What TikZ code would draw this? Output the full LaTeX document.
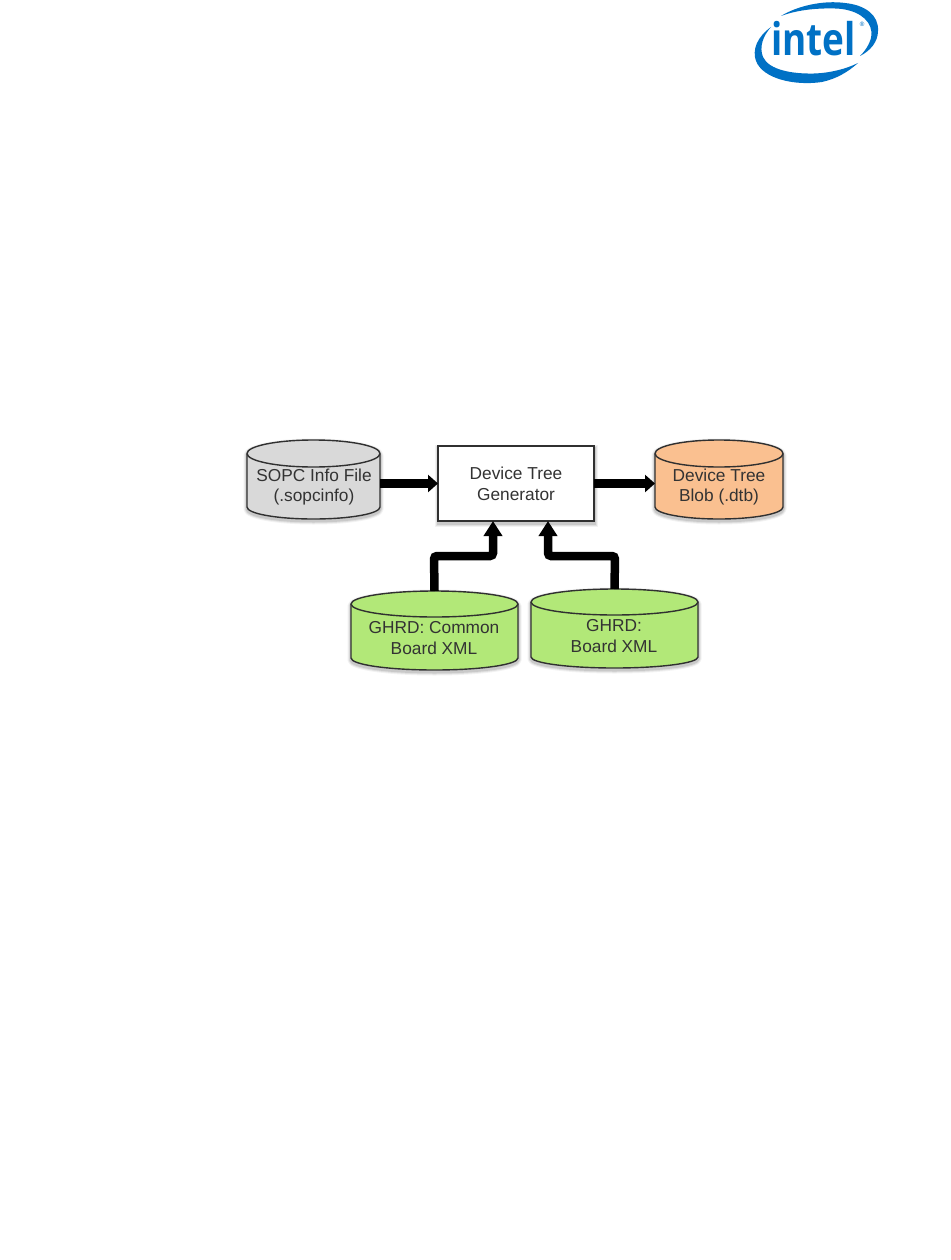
\documentclass[tikz,border=0pt]{standalone}
\usepackage{fontspec}
\setmainfont{Liberation Sans}
\newfontfamily\logofont{Open Sans}
\usetikzlibrary{arrows.meta}
\definecolor{cgrey}{HTML}{D9D9D9}
\definecolor{corange}{HTML}{FAC090}
\definecolor{cgreen}{HTML}{B2E878}
\definecolor{cblue}{HTML}{0071C5}
\definecolor{cedge}{HTML}{303030}
\tikzset{
  cylbox/.style={minimum width=0pt,minimum height=0pt,inner sep=0pt,outer sep=0pt},
  cyltext/.style={align=center,font=\fontsize{17.3}{20.8}\selectfont,text=black!80,inner sep=0pt},
  boxtext/.style={align=center,font=\fontsize{17.3}{21.5}\selectfont,text=black!80,inner sep=0pt},
  fatarrow/.style={draw=black,line width=8.5pt,rounded corners=3pt,-{Triangle[length=10pt,width=17pt]}},
  fatriser/.style={draw=black,line width=8.5pt,rounded corners=3pt,-{Triangle[length=15pt,width=18pt]}},
  genbox/.style={draw=cedge,line width=1.4pt,fill=white,minimum width=156pt,minimum height=75pt,inner sep=0pt,outer sep=0pt},
}
% name, x1, x2, ytop, yrim, yside, ybot, fill
\newcommand{\drumshape}[8]{%
  \pgfmathsetmacro{\cx}{(#2+#3)/2}\pgfmathsetmacro{\rx}{(#3-#2)/2}
  \pgfmathsetmacro{\ry}{(#5-#4)/2}\pgfmathsetmacro{\cy}{(#4+#5)/2}
  \pgfmathsetmacro{\ryb}{#7-#6}
  \foreach \w/\o in {7/0.05,5/0.07,3/0.1}{
    \draw[line width=\w pt,draw=black,opacity=\o,line join=round,yshift=-2pt]
      (#2,\cy) -- (#2,#6) arc[start angle=180,end angle=360,x radius=\rx,y radius=-\ryb]
      -- (#3,\cy) arc[start angle=0,end angle=180,x radius=\rx,y radius=-\ry] -- cycle;
  }
  \draw[draw=cedge,line width=1.4pt,fill=#8,line join=round]
    (#2,\cy) -- (#2,#6) arc[start angle=180,end angle=360,x radius=\rx,y radius=-\ryb]
    -- (#3,\cy) arc[start angle=0,end angle=180,x radius=\rx,y radius=-\ry] -- cycle;
  \draw[draw=cedge,line width=1.4pt]
    (#2,\cy) arc[start angle=180,end angle=360,x radius=\rx,y radius=-\ry];
  \node[cylbox,minimum width={(#3-#2)*1pt},minimum height={(#7-#4)*1pt}] (#1) at ({(#2+#3)/2},{(#4+#7)/2}) {};
}
\begin{document}
\begin{tikzpicture}[x=1pt,y=-1pt]
\useasboundingbox (0,0) rectangle (950,1260);
\fill[white] (0,0) rectangle (950,1260);

% logo
\fill[cblue] (771,27) .. controls (757,37) and (752,50) .. (756,61)
  .. controls (763,79) and (795,86) .. (822,82)
  .. controls (836,79) and (848,72) .. (858,63)
  .. controls (846,69) and (830,73) .. (814,73.5)
  .. controls (792,74) and (769,70) .. (763,57)
  .. controls (759,47) and (763,36) .. (771,27) -- cycle;
\fill[cblue] (781,16) .. controls (797,6) and (823,0) .. (845,3)
  .. controls (865,5) and (879,15) .. (878,31)
  .. controls (878,42) and (870,51) .. (860,56)
  .. controls (866,50) and (872,41) .. (871.5,32)
  .. controls (870,18) and (855,9) .. (835,8.5)
  .. controls (816,8) and (797,10) .. (781,16) -- cycle;
\node[inner sep=0pt,anchor=base west,xscale=0.82,text=cblue,font=\logofont\bfseries\fontsize{45}{45}\selectfont] (logo) at (771,56) {intel};
\node[inner sep=0pt,text=cblue,font=\logofont\fontsize{6}{6}\selectfont] (reg) at (862,24) {®};

% shadow of box + box
\foreach \w/\o in {7/0.05,5/0.07,3/0.1}{
  \draw[line width=\w pt,draw=black,opacity=\o] (438,448) rectangle (594,523);
}
\node[genbox] (box) at (516,483.5) {};
\node[boxtext] (boxlabel) at (516,484) {Device Tree\\Generator};

% drums
\drumshape{grey}{247}{380}{440}{467}{507}{519}{cgrey}
\node[cyltext] (greylabel) at (314,487) {SOPC Info File\\(.sopcinfo)};
\drumshape{orange}{655}{783}{440}{467}{507}{519}{corange}
\node[cyltext] (orangelabel) at (719,487) {Device Tree\\Blob (.dtb)};
\drumshape{ga}{351}{518}{591}{617}{658}{670}{cgreen}
\node[cyltext] (galabel) at (434,638) {GHRD: Common\\Board XML};
\drumshape{gb}{531}{698}{589}{615}{657}{668}{cgreen}
\node[cyltext] (gblabel) at (614,636) {GHRD:\\Board XML};

% connectors
\coordinate (boxa) at ([xshift=-23pt]box.south);
\coordinate (boxb) at ([xshift=32pt]box.south);
\coordinate (kneea) at (434,556);
\coordinate (kneeb) at (615,556);
\draw[fatarrow] (grey.east |- box.west) -- (box.west);
\draw[fatarrow] (box.east) -- (orange.west |- box.east);
\draw[fatriser] (ga.north) -- (kneea) -| (boxa);
\draw[fatriser] (gb.north) -- (kneeb) -| (boxb);
\end{tikzpicture}
\end{document}
